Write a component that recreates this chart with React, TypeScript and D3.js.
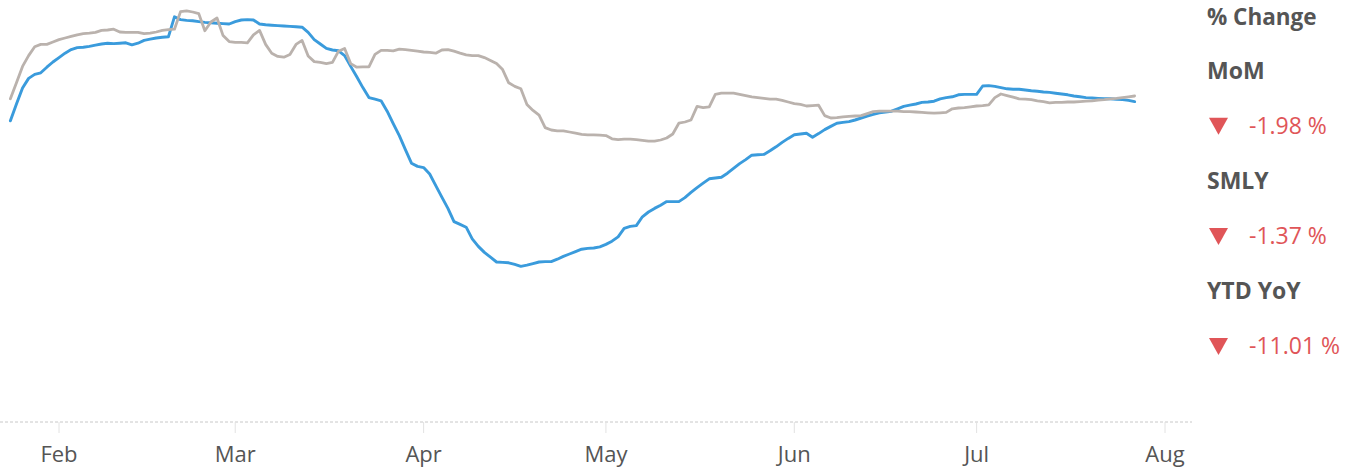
import React from "react";
import * as d3 from "d3";

const WIDTH = 1352;
const HEIGHT = 472;

// Daily index values, starting on seriesStart
const seriesStart = "2020-01-24";

const currentYear = [
  75.3, 79.5, 83.5, 85.9, 86.9, 87.3, 88.7, 90.0,
  91.1, 92.2, 93.1, 93.6, 93.7, 93.9, 94.2, 94.5, 94.7, 94.6, 94.7, 94.8, 94.3, 94.7, 95.4, 95.7, 96.0, 96.2, 96.3, 101.3, 100.6, 100.4, 100.3, 100.1, 99.9, 99.8, 99.7, 99.6, 99.5,
  100.1, 100.5, 100.6, 100.5, 99.5, 99.3, 99.2, 99.1, 99.0, 98.9, 98.8, 98.7, 97.4, 95.6, 94.5, 93.4, 93.0, 92.8, 91.6, 88.9, 86.3, 83.6, 81.1, 80.7, 80.3, 77.7, 74.6, 71.6, 68.1, 64.7, 63.9,
  63.6, 62.0, 59.1, 56.2, 53.4, 50.1, 49.4, 48.7, 45.8, 43.9, 42.4, 41.2, 40.0, 39.9, 39.8, 39.4, 38.9, 39.2, 39.6, 40.0, 40.1, 40.1, 40.7, 41.4, 42.0, 42.6, 43.2, 43.4, 43.5, 43.8,
  44.4, 45.2, 46.3, 48.4, 48.9, 49.1, 51.3, 52.5, 53.4, 54.2, 55.1, 55.1, 55.1, 56.1, 57.4, 58.6, 59.7, 60.8, 61.0, 61.2, 62.2, 63.4, 64.6, 65.6, 66.7, 66.8, 66.9, 67.8, 68.8, 69.9, 70.9,
  71.8, 72.0, 72.2, 71.2, 72.1, 73.1, 73.9, 74.7, 74.9, 75.1, 75.5, 76.0, 76.5, 76.9, 77.3, 77.5, 77.7, 78.3, 78.9, 79.2, 79.5, 79.9, 80.0, 80.2, 80.8, 81.1, 81.3, 81.8, 81.9, 81.9,
  81.9, 84.0, 84.1, 83.9, 83.6, 83.3, 83.2, 83.2, 83.0, 82.8, 82.7, 82.5, 82.4, 82.2, 82.0, 81.8, 81.5, 81.3, 81.1, 81.0, 80.9, 80.8, 80.8, 80.7, 80.6, 80.4, 80.1,
];

const priorYear = [
  80.8, 84.8, 88.9, 91.6, 93.8, 94.4, 94.4, 95.0,
  95.6, 96.0, 96.4, 96.8, 97.1, 97.2, 97.4, 97.9, 98.0, 98.2, 97.5, 97.4, 97.4, 97.4, 97.1, 97.2, 97.5, 97.9, 98.1, 98.2, 102.6, 102.8, 102.5, 102.1, 97.8, 100.0, 101.0, 96.6, 95.1,
  94.9, 94.9, 94.8, 96.8, 97.9, 94.4, 92.2, 91.4, 91.2, 91.9, 94.4, 95.4, 91.5, 90.1, 89.9, 89.6, 89.9, 92.7, 93.4, 89.6, 88.7, 88.8, 88.8, 91.9, 92.9, 92.9, 92.8, 93.2, 93.1, 92.9, 92.7,
  92.5, 92.4, 92.2, 93.0, 93.1, 92.7, 92.2, 91.8, 91.6, 91.6, 91.1, 90.4, 89.6, 88.1, 84.8, 83.9, 83.3, 79.4, 77.9, 76.7, 73.6, 73.0, 72.8, 72.8, 72.5, 72.2, 71.9, 71.8, 71.8, 71.7,
  71.6, 70.8, 70.6, 70.7, 70.7, 70.6, 70.4, 70.2, 70.2, 70.5, 71.0, 72.0, 74.7, 75.0, 75.5, 78.9, 78.6, 78.8, 81.9, 82.2, 82.2, 82.2, 81.9, 81.6, 81.3, 81.1, 80.9, 80.7, 80.7, 80.4, 80.0,
  79.6, 79.4, 79.0, 79.1, 79.2, 76.6, 76.0, 76.1, 76.3, 76.4, 76.5, 76.6, 77.1, 77.6, 77.7, 77.7, 77.7, 77.7, 77.6, 77.6, 77.5, 77.4, 77.3, 77.2, 77.3, 77.4, 78.3, 78.5, 78.6, 78.8,
  79.0, 79.1, 79.3, 81.1, 82.0, 81.6, 81.2, 80.8, 80.7, 80.6, 80.3, 80.1, 79.8, 79.9, 79.9, 80.0, 80.0, 80.1, 80.2, 80.3, 80.5, 80.6, 80.8, 80.9, 81.1, 81.3, 81.5,
];

const monthTicks = [
  "2020-02-01", "2020-03-01", "2020-04-01", "2020-05-01",
  "2020-06-01", "2020-07-01", "2020-08-01",
];

const changeLabels = ["MoM", "SMLY", "YTD YoY"];
const changeValues = [-1.98, -1.37, -11.01];

const FONT = "'Open Sans', 'Noto Sans', sans-serif";
const TEXT_COLOR = "#555555";
const DOWN_COLOR = "#e05558";

const parseDay = d3.timeParse("%Y-%m-%d");

type Point = { date: Date; value: number };

function toPoints(values: number[]): Point[] {
  const start = parseDay(seriesStart) as Date;
  return values.map((value, i) => ({ date: d3.timeDay.offset(start, i), value }));
}

export default function App() {
  const x = d3
    .scaleTime()
    .domain([parseDay("2020-02-01") as Date, parseDay("2020-08-01") as Date])
    .range([59, 1165]);
  const y = d3.scaleLinear().domain([0, 105.5]).range([422, 0]);

  const line = d3
    .line<Point>()
    .x((d) => x(d.date))
    .y((d) => y(d.value));

  const current = toPoints(currentYear);
  const prior = toPoints(priorYear);
  const tickDates = monthTicks.map((t) => parseDay(t) as Date);
  const fmt = d3.timeFormat("%b");
  const baseY = y(0);

  const legendX = 1207;
  const rowStep = 55.1;
  const firstBaseline = 24.5;

  return (
    <svg
      width={WIDTH}
      height={HEIGHT}
      style={{ position: "absolute", left: 0, top: 0, background: "#ffffff" }}
      fontFamily={FONT}
    >
      {/* baseline and month ticks */}
      <line x1={0} x2={1192} y1={baseY} y2={baseY} stroke="#c8c8c8" strokeWidth={1} strokeDasharray="3,2" />
      {tickDates.map((d, i) => (
        <g key={i}>
          <line x1={x(d)} x2={x(d)} y1={baseY} y2={baseY + 11} stroke="#e2e2e2" strokeWidth={1} />
          <text x={x(d)} y={462} textAnchor="middle" fontSize={22} fill={TEXT_COLOR}>
            {fmt(d)}
          </text>
        </g>
      ))}

      {/* series */}
      <path d={line(current) || ""} fill="none" stroke="#3a9bdc" strokeWidth={2.9} strokeLinejoin="round" strokeLinecap="round" />
      <path d={line(prior) || ""} fill="none" stroke="#bab2ad" strokeWidth={2.8} strokeLinejoin="round" strokeLinecap="round" />

      {/* change panel */}
      <text x={legendX} y={firstBaseline} fontSize={22.5} fontWeight={700} fill={TEXT_COLOR}>
        % Change
      </text>
      {changeLabels.map((label, i) => {
        const labelY = firstBaseline - 1 + rowStep * (1 + 2 * i);
        const valueY = firstBaseline - 1 + rowStep * (2 + 2 * i);
        const v = changeValues[i];
        const tri = `M${legendX + 2},${valueY - 16} L${legendX + 21},${valueY - 16} L${legendX + 11.5},${valueY + 1} Z`;
        return (
          <g key={label}>
            <text x={legendX} y={labelY} fontSize={23} fontWeight={700} fill={TEXT_COLOR}>
              {label}
            </text>
            <path d={tri} fill={DOWN_COLOR} />
            <text x={legendX + 42} y={valueY} fontSize={23} fill={DOWN_COLOR}>
              {`${v.toFixed(2)} %`}
            </text>
          </g>
        );
      })}
    </svg>
  );
}
